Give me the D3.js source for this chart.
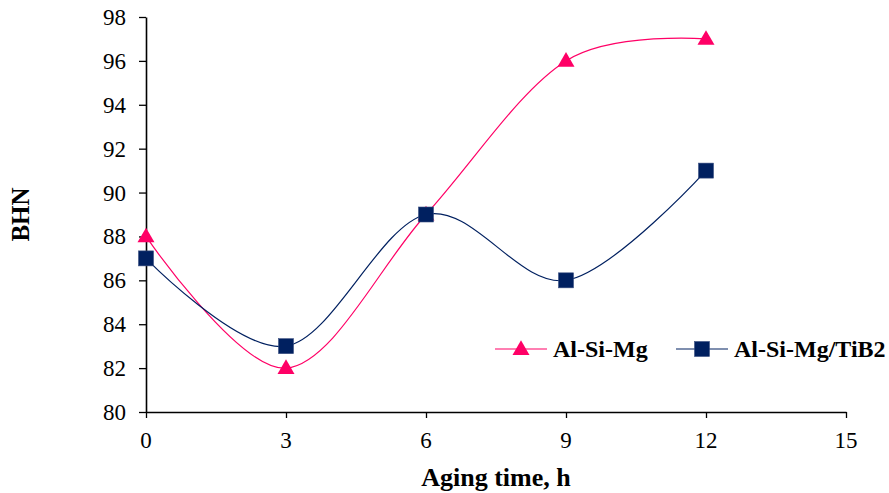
<!DOCTYPE html>
<html>
<head>
<meta charset="utf-8">
<script src="https://cdn.jsdelivr.net/npm/d3@7"></script>
<style>
  body { margin: 0; background: #fff; }
  svg text { font-family: "Liberation Serif", "Times New Roman", serif; fill: #000; }
</style>
</head>
<body>
<div id="chart"></div>
<script>
// Aging time (h) and hardness values
let aging_time = [0, 3, 6, 9, 12];
let alsimg = [88, 82, 89, 96, 97];
let alsimg_tib2 = [87, 83, 89, 86, 91];
let x_ticks = [0, 3, 6, 9, 12, 15];
let y_ticks = [80, 82, 84, 86, 88, 90, 92, 94, 96, 98];

let width = 889, height = 493;
let margin = {left: 146, right: 43, top: 17, bottom: 81};

let svg = d3.select("#chart").append("svg")
    .attr("width", width)
    .attr("height", height);

let x = d3.scaleLinear().domain([0, 15]).range([margin.left, width - margin.right]);
let y = d3.scaleLinear().domain([80, 98]).range([height - margin.bottom, margin.top]);

// axes (labels drawn separately below)
let x_axis = svg.append("g")
    .attr("transform", "translate(0," + y(80) + ")")
    .call(d3.axisBottom(x).tickValues(x_ticks).tickSize(6).tickSizeOuter(0).tickFormat(""));
let y_axis = svg.append("g")
    .attr("transform", "translate(" + x(0) + ",0)")
    .call(d3.axisLeft(y).tickValues(y_ticks).tickSize(7).tickSizeOuter(0).tickFormat(""));

[x_axis, y_axis].forEach(function(a) {
    a.select(".domain").attr("stroke", "#000").attr("stroke-width", 1.6);
    a.selectAll(".tick line").attr("stroke", "#000").attr("stroke-width", 1.3);
});

svg.selectAll(".xlab").data(x_ticks).enter().append("text")
    .attr("class", "xlab")
    .attr("x", function(d) { return x(d); })
    .attr("y", y(80) + 36)
    .attr("text-anchor", "middle")
    .style("font-size", "23px")
    .text(function(d) { return d; });

svg.selectAll(".ylab").data(y_ticks).enter().append("text")
    .attr("class", "ylab")
    .attr("x", x(0) - 20)
    .attr("y", function(d) { return y(d) + 8; })
    .attr("text-anchor", "end")
    .style("font-size", "23px")
    .text(function(d) { return d; });

// axis titles
svg.append("text")
    .attr("x", x(7.5)).attr("y", 486)
    .attr("text-anchor", "middle")
    .style("font-size", "26px").style("font-weight", "bold")
    .text("Aging time, h");
svg.append("text")
    .attr("transform", "translate(29," + y(89) + ") rotate(-90)")
    .attr("text-anchor", "middle")
    .style("font-size", "25px").style("font-weight", "bold")
    .text("BHN");

let line = d3.line()
    .x(function(d, i) { return x(aging_time[i]); })
    .y(function(d) { return y(d); })
    .curve(d3.curveCatmullRom.alpha(0));

let pink = "#ff0066", navy = "#002060";

svg.append("path").datum(alsimg)
    .attr("d", line).attr("fill", "none").attr("stroke", pink).attr("stroke-width", 1.2);
svg.append("path").datum(alsimg_tib2)
    .attr("d", line).attr("fill", "none").attr("stroke", navy).attr("stroke-width", 1.2);

let tri = d3.symbol().type(d3.symbolTriangle).size(125);
svg.selectAll(".tri").data(alsimg).enter().append("path")
    .attr("d", tri)
    .attr("transform", function(d, i) { return "translate(" + x(aging_time[i]) + "," + (y(d) + 1) + ")"; })
    .attr("fill", pink);

svg.selectAll(".sq").data(alsimg_tib2).enter().append("rect")
    .attr("x", function(d, i) { return x(aging_time[i]) - 7.5; })
    .attr("y", function(d) { return y(d) - 7.5; })
    .attr("width", 15).attr("height", 15)
    .attr("fill", navy).attr("stroke", "#3a4f80").attr("stroke-width", 0.6);

// legend
let ly = 349;
svg.append("line").attr("x1", 495).attr("x2", 547).attr("y1", ly).attr("y2", ly)
    .attr("stroke", pink).attr("stroke-width", 1.2);
svg.append("path").attr("d", tri).attr("transform", "translate(521," + (ly + 1) + ")").attr("fill", pink);
svg.append("text").attr("x", 553).attr("y", ly + 8)
    .style("font-size", "24px").style("font-weight", "bold").text("Al-Si-Mg");

svg.append("line").attr("x1", 676).attr("x2", 728).attr("y1", ly).attr("y2", ly)
    .attr("stroke", navy).attr("stroke-width", 1.2);
svg.append("rect").attr("x", 694.5).attr("y", ly - 7.5).attr("width", 15).attr("height", 15)
    .attr("fill", navy).attr("stroke", "#3a4f80").attr("stroke-width", 0.6);
svg.append("text").attr("x", 734).attr("y", ly + 8)
    .style("font-size", "24px").style("font-weight", "bold").text("Al-Si-Mg/TiB2");
</script>
</body>
</html>
